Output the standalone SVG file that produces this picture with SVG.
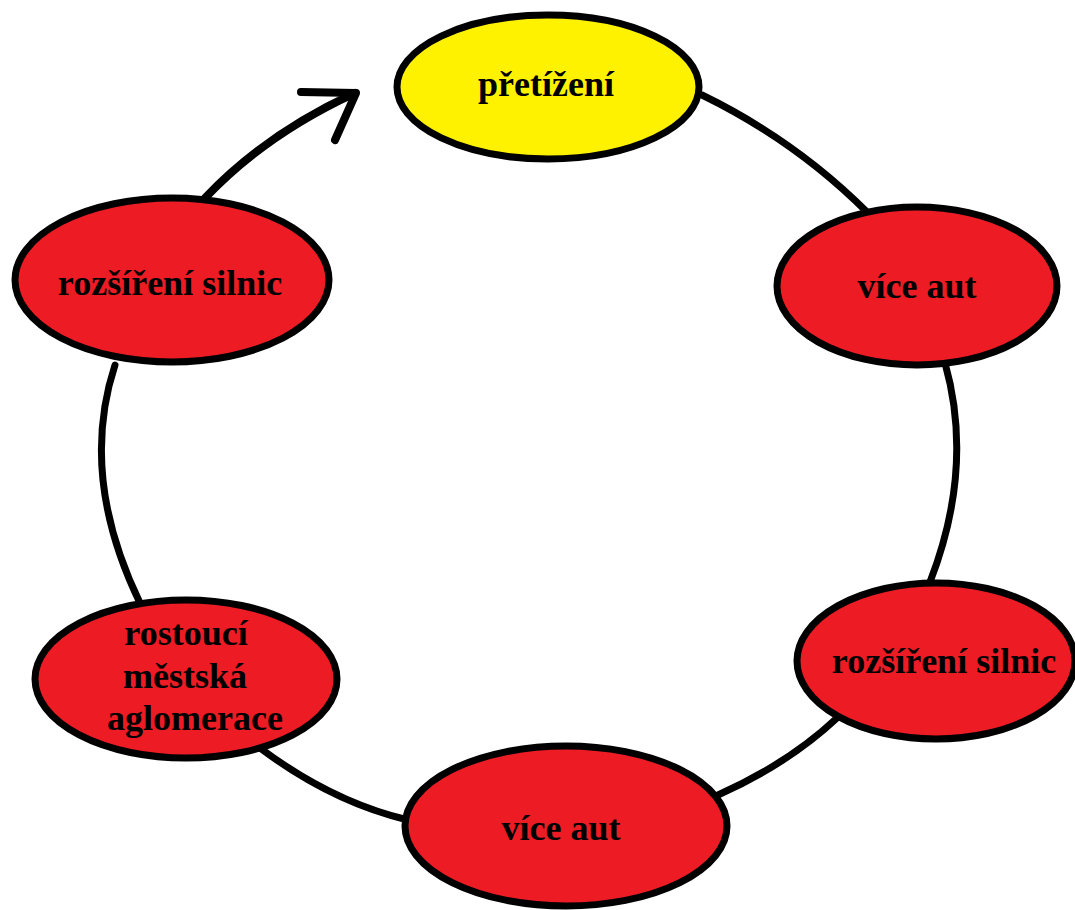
<svg xmlns="http://www.w3.org/2000/svg" width="1075" height="910" viewBox="0 0 1075 910">
<style>
.c{fill:none;stroke:#000;stroke-width:7;stroke-linecap:round;stroke-linejoin:round}
.a{stroke-width:8}
.n{stroke:#000;stroke-width:7}
.r{fill:#ED1C24}
.y{fill:#FFF200}
text{font-family:"Liberation Serif","Times New Roman",serif;font-weight:bold;font-size:36px;fill:#000;text-anchor:middle}
</style>
<rect width="1075" height="910" fill="#fff"/>
<g id="connectors">
<path class="c" d="M702,95 Q795.5,140.5 867,212"/>
<path class="c" d="M945,363 Q974.5,467.5 930,582"/>
<path class="c" d="M837,718 Q788.5,763.5 718,795"/>
<path class="c" d="M260,748 Q332,802 408,820"/>
<path class="c" d="M115,365 Q78.5,476 140,603"/>
<path class="c a" d="M205,198 Q265,134.5 355,93"/>
<polyline class="c a" points="301,92 356,93 335,140"/>
</g>
<g id="n-pretizeni">
<ellipse class="n y" cx="548" cy="87" rx="151" ry="72"/>
<text x="546" y="96">přetížení</text>
</g>
<g id="n-vice-aut-1">
<ellipse class="n r" cx="917" cy="286" rx="140" ry="79"/>
<text x="917" y="298">více aut</text>
</g>
<g id="n-rozsireni-2">
<ellipse class="n r" cx="936" cy="661" rx="139" ry="78"/>
<text x="944" y="673">rozšíření silnic</text>
</g>
<g id="n-vice-aut-2">
<ellipse class="n r" cx="566" cy="826" rx="161" ry="80"/>
<text x="561" y="840">více aut</text>
</g>
<g id="n-rostouci">
<ellipse class="n r" cx="186" cy="679" rx="151" ry="79"/>
<text x="186" y="645">rostoucí</text>
<text x="185" y="688">městská</text>
<text x="195" y="730">aglomerace</text>
</g>
<g id="n-rozsireni-1">
<ellipse class="n r" cx="172" cy="280" rx="157" ry="82"/>
<text x="170" y="295">rozšíření silnic</text>
</g>
</svg>
